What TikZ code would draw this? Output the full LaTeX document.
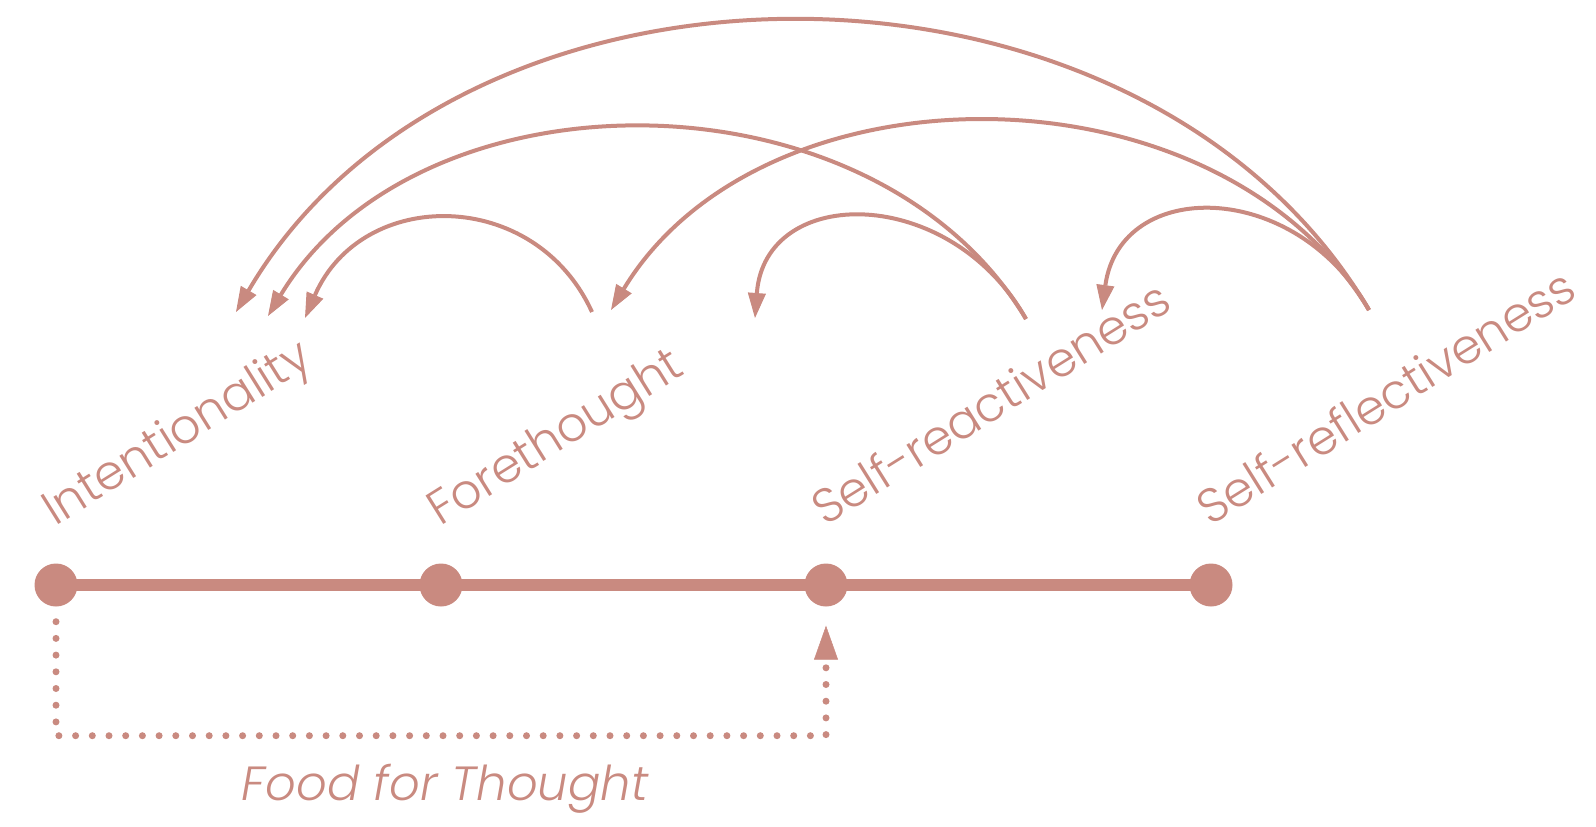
\documentclass[tikz,border=0pt]{standalone}
\usepackage{fontspec}
\setmainfont{Poppins}[UprightFont=* Light, ItalicFont=* Light Italic]
\usetikzlibrary{arrows.meta,calc,backgrounds}
\definecolor{rose}{RGB}{201,138,128}
\begin{document}
\begin{tikzpicture}[x=1pt,y=-1pt,
  dotnode/.style={circle,fill=rose,minimum size=43pt,inner sep=0pt},
  stage/.style={anchor=base west,rotate=32,text=rose,inner sep=0pt,
    font=\fontsize{48}{48}\selectfont},
  loop/.style={draw=rose,line width=4pt,
    -{Triangle[length=25pt,width=18pt,line width=1pt]}},
  feed/.style={draw=rose,line width=7pt,line cap=round,
    dash pattern=on 0pt off 16.7pt,
    -{Triangle[length=34pt,width=24pt,line width=0.5pt]}}]
\useasboundingbox (0,0) rectangle (1596,827);

% timeline
\node[dotnode] (d1) at (56,585) {};
\node[dotnode] (d2) at (441,585) {};
\node[dotnode] (d3) at (826,585) {};
\node[dotnode] (d4) at (1211,585) {};
\begin{scope}[on background layer]
  \draw[rose,line width=12pt] (d1.center) -- (d4.center);
\end{scope}

% stage labels
\node[stage] (l1) at ($(d1)+(-1,-58)$) {Intentionality};
\node[stage] (l2) at ($(d2)+(-1,-58)$) {Forethought};
\node[stage] (l3) at ($(d3)+(-1,-58)$) {Self-reactiveness};
\node[stage] (l4) at ($(d4)+(-1,-58)$) {Self-reflectiveness};

% ends of the feedback arcs
\coordinate (s2) at (592,312);
\coordinate (s3) at (1026,319);
\coordinate (s4) at (1369,310);
\coordinate (t1a) at (236,312);
\coordinate (t1b) at (268,316);
\coordinate (t1c) at (305,318);
\coordinate (t2) at (611,310);
\coordinate (t3) at (755,318);
\coordinate (t4) at (1102,310);

\draw[loop] (s4) .. controls (1142,-75) and (463,-75) .. (t1a);
\draw[loop] (s3) .. controls (874,65) and (420,65) .. (t1b);
\draw[loop] (s2) .. controls (535,187) and (362,187) .. (t1c);
\draw[loop] (s4) .. controls (1217,59) and (763,59) .. (t2);
\draw[loop] (s3) .. controls (950,184) and (765,184) .. (t3);
\draw[loop] (s4) .. controls (1295,178) and (1120,178) .. (t4);

% food for thought
\coordinate (fs) at ($(d1.south)+(0,15)$);
\coordinate (fe) at ($(d3.south)+(0,19)$);
\draw[feed] (fs) -- ++(0,114) -| (fe);
\node[text=rose,anchor=base,inner sep=0pt,font=\fontsize{48}{48}\selectfont\itshape]
  (fft) at (445,800) {Food for Thought};
\end{tikzpicture}
\end{document}
